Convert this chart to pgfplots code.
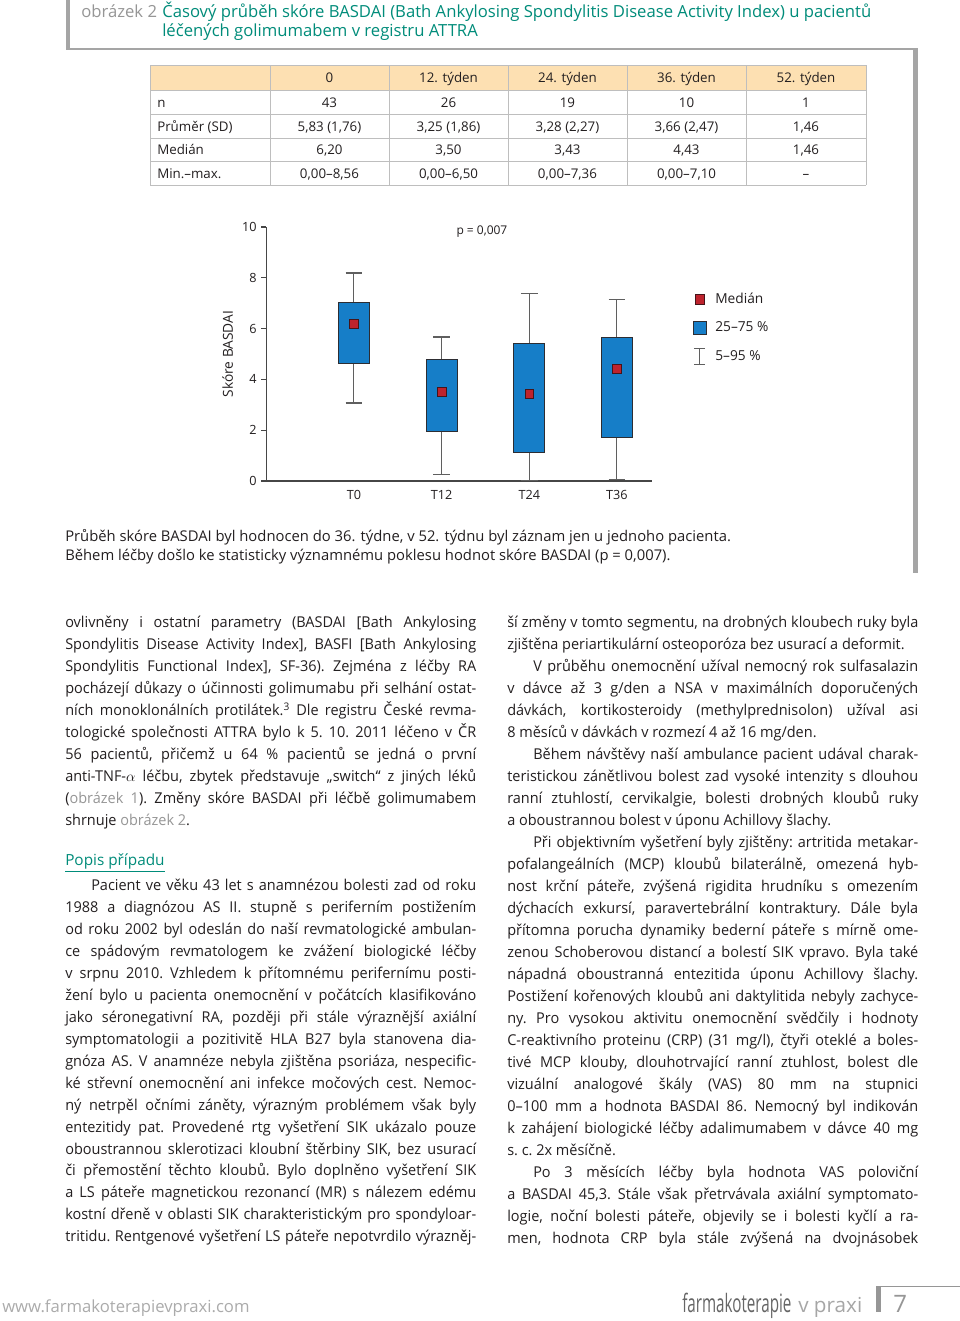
\documentclass[border=0pt]{standalone}
\usepackage{fontspec}
\setmainfont{Open Sans}
\newfontfamily\bodyff{Open Sans}[FakeStretch=0.97]
\usepackage{pgfplots}
\pgfplotsset{compat=1.18}
\usepgfplotslibrary{statistics}

\definecolor{figteal}{RGB}{0,140,122}
\definecolor{figgray}{RGB}{150,150,150}
\definecolor{framegray}{RGB}{165,165,165}
\definecolor{peach}{RGB}{253,224,178}
\definecolor{tableline}{RGB}{190,190,190}
\definecolor{boxblue}{RGB}{22,126,200}
\definecolor{boxedge}{RGB}{45,45,50}
\definecolor{whisk}{RGB}{95,95,95}
\definecolor{medred}{RGB}{190,35,45}
\definecolor{meddark}{RGB}{70,20,25}
\definecolor{axisgray}{RGB}{70,70,70}
\definecolor{textdark}{RGB}{35,31,32}

\newcommand{\bodyfont}{\bodyff\fontsize{11.2}{16.5}\selectfont}
\newcommand{\chartfont}{\fontsize{10.3}{12}\selectfont}
\newcommand{\tickfont}{\fontsize{9.5}{11}\selectfont}
\newcommand{\tabfont}{\fontsize{10}{12}\selectfont}
\newcommand{\bodysetup}{\frenchspacing\tolerance=10000 \hyphenpenalty=10000 \exhyphenpenalty=10000 \parindent=0pt }
\newcommand{\ind}{\hspace*{19.5pt}}
\newcommand{\obr}[1]{\textcolor{figgray}{#1}}

% one table row: baseline, label, five values
\newcommand{\trow}[7]{%
  \node[tcell, anchor=base west] at (117.75pt,#1) {#2};
  \node[tcell] at (247.1pt,#1) {#3};
  \node[tcell] at (336.4pt,#1) {#4};
  \node[tcell] at (425.6pt,#1) {#5};
  \node[tcell] at (514.9pt,#1) {#6};
  \node[tcell] at (604.5pt,#1) {#7};
}

\begin{document}
\begin{tikzpicture}[tcell/.style={anchor=base, inner sep=0pt, font=\tabfont, text=textdark}]
\fill[white] (0,0) rectangle (720pt,-990.75pt);
\path[use as bounding box] (0,0) rectangle (720pt,-990.75pt);

% figure frame
\fill[framegray] (49.5pt,0pt) rectangle (52.5pt,-37.5pt);
\fill[framegray] (49.5pt,-36pt) rectangle (688.5pt,-37.5pt);
\fill[framegray] (684.75pt,-36pt) rectangle (688.5pt,-429.75pt);

% title
\node[anchor=base west, inner sep=0pt, font=\fontsize{12.5}{14}\selectfont, text=figgray] at (60.75pt,-12.75pt) {obrázek 2};
\node[anchor=base west, inner sep=0pt, font=\fontsize{12.5}{14}\selectfont, text=figteal] at (121.5pt,-12.75pt) {Časový průběh skóre BASDAI (Bath Ankylosing Spondylitis Disease Activity Index) u pacientů};
\node[anchor=base west, inner sep=0pt, font=\fontsize{12.5}{14}\selectfont, text=figteal] at (121.5pt,-27pt) {léčených golimumabem v registru ATTRA};

% table
\fill[peach] (112.5pt,-48.75pt) rectangle (649.5pt,-67.5pt);
\draw[tableline, line width=0.6pt]
  (112.5pt,-48.75pt) -- (649.5pt,-48.75pt)
  (112.5pt,-67.5pt) -- (649.5pt,-67.5pt)
  (112.5pt,-85.5pt) -- (649.5pt,-85.5pt)
  (112.5pt,-103.5pt) -- (649.5pt,-103.5pt)
  (112.5pt,-120.75pt) -- (649.5pt,-120.75pt)
  (112.5pt,-138.75pt) -- (649.5pt,-138.75pt);
\foreach \xx in {112.5pt,202.5pt,291.75pt,381pt,470.25pt,559.5pt,649.5pt}
  \draw[tableline, line width=0.6pt] (\xx,-48.75pt) -- (\xx,-138.75pt);
\trow{-61.9pt}{}{0}{12. týden}{24. týden}{36. týden}{52. týden}
\trow{-80.25pt}{n}{43}{26}{19}{10}{1}
\trow{-98.25pt}{Průměr (SD)}{5,83 (1,76)}{3,25 (1,86)}{3,28 (2,27)}{3,66 (2,47)}{1,46}
\trow{-115.9pt}{Medián}{6,20}{3,50}{3,43}{4,43}{1,46}
\trow{-133.5pt}{Min.–max.}{0,00–8,56}{0,00–6,50}{0,00–7,36}{0,00–7,10}{–}

% chart
\begin{axis}[
  at={(199.7pt,-360.75pt)}, anchor=south west,
  scale only axis, width=289.3pt, height=190.5pt,
  xmin=0, xmax=4.4, ymin=0, ymax=10,
  axis x line*=bottom, axis y line*=left,
  axis line style={draw=axisgray, line width=0.8pt},
  xtick={1,2,3,4}, xticklabels={T0,T12,T24,T36},
  ytick={0,2,4,6,8,10},
  tick align=outside, major tick length=3.75pt,
  x tick style={draw=none},
  y tick style={draw=axisgray, line width=0.8pt},
  tick label style={font=\tickfont, text=textdark},
  /pgf/number format/assume math mode=true,
  ylabel={Skóre BASDAI},
  ylabel style={font=\chartfont, text=textdark},
  clip=false,
  boxplot/draw direction=y,
  boxplot/every box/.style={draw=boxedge, fill=boxblue, line width=0.6pt},
  boxplot/every whisker/.style={draw=whisk, line width=0.8pt},
  boxplot/draw/median/.code={},
  legend cell align=left,
  legend style={at={(1.105,0.748)}, anchor=north west, draw=none, fill=none,
    inner sep=0pt, row sep=9pt, font=\chartfont, text=textdark,
    nodes={inner sep=1.5pt}},
]
\addplot[forget plot, boxplot prepared={draw position=1, lower whisker=3.07, lower quartile=4.63,
  median=6.20, upper quartile=7.02, upper whisker=8.19, box extend=0.353, whisker extend=0.19}]
  coordinates {};
\addplot[forget plot, boxplot prepared={draw position=2, lower whisker=0.24, lower quartile=1.97,
  median=3.50, upper quartile=4.79, upper whisker=5.67, box extend=0.353, whisker extend=0.19}]
  coordinates {};
\addplot[forget plot, boxplot prepared={draw position=3, lower whisker=0.03, lower quartile=1.13,
  median=3.43, upper quartile=5.41, upper whisker=7.39, box extend=0.353, whisker extend=0.19}]
  coordinates {};
\addplot[forget plot, boxplot prepared={draw position=4, lower whisker=0.05, lower quartile=1.72,
  median=4.43, upper quartile=5.67, upper whisker=7.14, box extend=0.353, whisker extend=0.19}]
  coordinates {};
% medians
\addplot[forget plot, only marks, mark=square*, mark size=3.3pt,
  mark options={fill=medred, draw=meddark, line width=0.5pt}]
  coordinates {(1,6.20) (2,3.50) (3,3.43) (4,4.43)};

\addlegendimage{legend image code/.code={\path (0pt,0pt) (15pt,0pt);\draw[fill=medred, draw=meddark, line width=0.5pt] (1.4pt,-3.6pt) rectangle (8.6pt,3.6pt);}}
\addlegendentry{Medián}
\addlegendimage{legend image code/.code={\path (0pt,0pt) (15pt,0pt);\draw[fill=boxblue, draw=boxedge, line width=0.5pt] (0.3pt,-4.8pt) rectangle (9.7pt,4.8pt);}}
\addlegendentry{25–75 \%}
\addlegendimage{legend image code/.code={\path (0pt,0pt) (15pt,0pt);\draw[draw=whisk, line width=0.8pt] (5pt,-6.2pt) -- (5pt,6.2pt) (1pt,6.2pt) -- (9pt,6.2pt) (1pt,-6.2pt) -- (9pt,-6.2pt);}}
\addlegendentry{5–95 \%}

\node[font=\fontsize{9}{11}\selectfont, text=textdark] at (axis cs:2.46,9.8) {p = 0,007};
\end{axis}

% caption
\node[anchor=base west, inner sep=0pt, font=\fontsize{11.1}{14}\selectfont, text=textdark] at (48.75pt,-406.1pt)
  {Průběh skóre BASDAI byl hodnocen do 36. týdne, v 52. týdnu byl záznam jen u jednoho pacienta.};
\node[anchor=base west, inner sep=0pt, font=\fontsize{11.1}{14}\selectfont, text=textdark] at (48.75pt,-420.4pt)
  {Během léčby došlo ke statisticky významnému poklesu hodnot skóre BASDAI (p = 0,007).};

% body, left column
\node[anchor=north west, inner sep=0pt, text width=308.25pt, align=justify, font=\bodyfont, text=textdark]
  at (48.75pt,-458.6pt) {\bodysetup\rule{0pt}{12pt}ovlivněny i ostatní parametry (BASDAI [Bath Ankylosing\linebreak
Spondylitis Disease Activity Index], BASFI [Bath Ankylosing\linebreak
Spondylitis Functional Index], SF-36). Zejména z léčby RA\linebreak
pocházejí důkazy o účinnosti golimumabu při selhání ostat-\linebreak
ních monoklonálních protilátek.\textsuperscript{3} Dle registru České revma-\linebreak
tologické společnosti ATTRA bylo k 5. 10. 2011 léčeno v ČR\linebreak
56 pacientů, přičemž u 64 \% pacientů se jedná o první\linebreak
anti-TNF-$\alpha$ léčbu, zbytek představuje „switch“ z jiných léků\linebreak
(\obr{obrázek 1}). Změny skóre BASDAI při léčbě golimumabem\linebreak
shrnuje \obr{obrázek 2}.};

\node[anchor=base west, inner sep=0pt, font=\fontsize{11.5}{14}\selectfont, text=figteal] at (48.75pt,-649.1pt)
  {\underline{Popis případu}};

\node[anchor=north west, inner sep=0pt, text width=308.25pt, align=justify, font=\bodyff\fontsize{11.2}{16.45}\selectfont, text=textdark]
  at (48.75pt,-655.9pt) {\bodysetup\rule{0pt}{12pt}\ind Pacient ve věku 43 let s anamnézou bolesti zad od roku\linebreak
1988 a diagnózou AS II. stupně s periferním postižením\linebreak
od roku 2002 byl odeslán do naší revmatologické ambulan-\linebreak
ce spádovým revmatologem ke zvážení biologické léčby\linebreak
v srpnu 2010. Vzhledem k přítomnému perifernímu posti-\linebreak
žení bylo u pacienta onemocnění v počátcích klasifikováno\linebreak
jako séronegativní RA, později při stále výraznější axiální\linebreak
symptomatologii a pozitivitě HLA B27 byla stanovena dia-\linebreak
gnóza AS. V anamnéze nebyla zjištěna psoriáza, nespecific-\linebreak
ké střevní onemocnění ani infekce močových cest. Nemoc-\linebreak
ný netrpěl očními záněty, výrazným problémem však byly\linebreak
entezitidy pat. Provedené rtg vyšetření SIK ukázalo pouze\linebreak
oboustrannou sklerotizaci kloubní štěrbiny SIK, bez usurací\linebreak
či přemostění těchto kloubů. Bylo doplněno vyšetření SIK\linebreak
a LS páteře magnetickou rezonancí (MR) s nálezem edému\linebreak
kostní dřeně v oblasti SIK charakteristickým pro spondyloar-\linebreak
tritidu. Rentgenové vyšetření LS páteře nepotvrdilo výrazněj-\parfillskip=0pt\par};

% body, right column
\node[anchor=north west, inner sep=0pt, text width=308.25pt, align=justify, font=\bodyfont, text=textdark]
  at (380.25pt,-458.6pt) {\bodysetup\rule{0pt}{12pt}ší změny v tomto segmentu, na drobných kloubech ruky byla\linebreak
zjištěna periartikulární osteoporóza bez usurací a deformit.\par
\ind V průběhu onemocnění užíval nemocný rok sulfasalazin\linebreak
v dávce až 3 g/den a NSA v maximálních doporučených\linebreak
dávkách, kortikosteroidy (methylprednisolon) užíval asi\linebreak
8 měsíců v dávkách v rozmezí 4 až 16 mg/den.\par
\ind Během návštěvy naší ambulance pacient udával charak-\linebreak
teristickou zánětlivou bolest zad vysoké intenzity s dlouhou\linebreak
ranní ztuhlostí, cervikalgie, bolesti drobných kloubů ruky\linebreak
a oboustrannou bolest v úponu Achillovy šlachy.\par
\ind Při objektivním vyšetření byly zjištěny: artritida metakar-\linebreak
pofalangeálních (MCP) kloubů bilaterálně, omezená hyb-\linebreak
nost krční páteře, zvýšená rigidita hrudníku s omezením\linebreak
dýchacích exkursí, paravertebrální kontraktury. Dále byla\linebreak
přítomna porucha dynamiky bederní páteře s mírně ome-\linebreak
zenou Schoberovou distancí a bolestí SIK vpravo. Byla také\linebreak
nápadná oboustranná entezitida úponu Achillovy šlachy.\linebreak
Postižení kořenových kloubů ani daktylitida nebyly zachyce-\linebreak
ny. Pro vysokou aktivitu onemocnění svědčily i hodnoty\linebreak
C-reaktivního proteinu (CRP) (31 mg/l), čtyři oteklé a boles-\linebreak
tivé MCP klouby, dlouhotrvající ranní ztuhlost, bolest dle\linebreak
vizuální analogové škály (VAS) 80 mm na stupnici\linebreak
0–100 mm a hodnota BASDAI 86. Nemocný byl indikován\linebreak
k zahájení biologické léčby adalimumabem v dávce 40 mg\linebreak
s. c. 2x měsíčně.\par
\ind Po 3 měsících léčby byla hodnota VAS poloviční\linebreak
a BASDAI 45,3. Stále však přetrvávala axiální symptomato-\linebreak
logie, noční bolesti páteře, objevily se i bolesti kyčlí a ra-\linebreak
men, hodnota CRP byla stále zvýšená na dvojnásobek\parfillskip=0pt\par};

% footer
\node[anchor=base west, inner sep=0pt, font=\fontsize{12.5}{15}\selectfont, text=figgray!80] at (1.5pt,-984pt)
  {www.farmakoterapievpraxi.com};
\node[anchor=base west, inner sep=0pt, font=\fontsize{19}{20}\selectfont, text=black!60] at (511.5pt,-984pt)
  {\scalebox{0.6}[1]{farmakoterapie}};
\node[anchor=base west, inner sep=0pt, font=\fontsize{15.5}{18}\selectfont, text=figgray!85] at (598.5pt,-984pt)
  {v praxi};
\fill[figgray] (657pt,-964.5pt) rectangle (660.75pt,-984pt);
\draw[figgray, line width=0.6pt] (660.75pt,-965pt) -- (720pt,-965pt);
\node[anchor=base west, inner sep=0pt, font=\fontsize{18}{20}\selectfont, text=figgray] at (669.75pt,-984pt) {7};
\end{tikzpicture}
\end{document}
